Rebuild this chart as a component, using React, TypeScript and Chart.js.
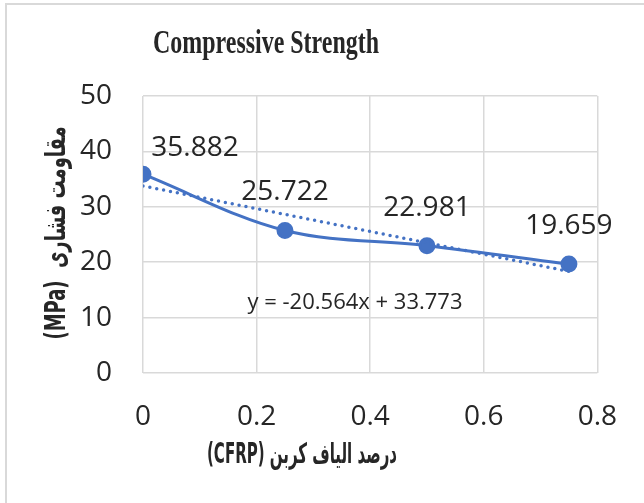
import React, { useEffect, useRef } from 'react';
import { Chart, registerables } from 'chart.js';

Chart.register(...registerables);

const xValues = [0, 0.25, 0.5, 0.75];
const strengthValues = [35.882, 25.722, 22.981, 19.659];
const pointLabels = ['35.882', '25.722', '22.981', '19.659'];
const xTickLabels = ['0', '0.2', '0.4', '0.6', '0.8'];
const yTickLabels = ['0', '10', '20', '30', '40', '50'];
const trendSlope = -20.564;
const trendIntercept = 33.773;
const trendX = [0, 0.75];
const titleText = 'Compressive Strength';
const xTitleText = 'درصد الیاف کربن (CFRP)';
const yTitleText = 'مقاومت فشاری  (MPa)';
const equationText = 'y = -20.564x + 33.773';

const BLUE = '#4472C4';
const TEXT = '#262626';
const GRID = '#d9d9d9';

function fitText(ctx: CanvasRenderingContext2D, text: string, x: number, y: number, font: string, width: number, rotate = 0, rtl = false) {
  ctx.save();
  ctx.font = font;
  ctx.direction = rtl ? 'rtl' : 'ltr';
  ctx.textAlign = 'center';
  ctx.textBaseline = 'middle';
  const w = ctx.measureText(text).width;
  ctx.translate(x, y);
  if (rotate) ctx.rotate(rotate);
  ctx.scale(width / w, 1);
  ctx.fillText(text, 0, 0);
  ctx.restore();
}

const decor = {
  id: 'decor',
  beforeDraw(chart: any) {
    const ctx = chart.ctx as CanvasRenderingContext2D;
    ctx.save();
    ctx.fillStyle = '#fff';
    ctx.fillRect(0, 0, chart.width, chart.height);
    ctx.strokeStyle = GRID;
    ctx.lineWidth = 2;
    ctx.beginPath();
    ctx.moveTo(6, chart.height);
    ctx.lineTo(6, 4);
    ctx.lineTo(chart.width, 4);
    ctx.stroke();
    ctx.restore();
  },
  afterDatasetsDraw(chart: any) {
    const ctx = chart.ctx as CanvasRenderingContext2D;
    const meta = chart.getDatasetMeta(1);
    ctx.save();
    ctx.fillStyle = TEXT;
    ctx.font = '28px "Open Sans"';
    ctx.textAlign = 'center';
    ctx.textBaseline = 'middle';
    meta.data.forEach((pt: any, i: number) => {
      const dx = i === 0 ? 52 : 0;
      const dy = i === 0 ? -26 : -38;
      ctx.fillText(pointLabels[i], pt.x + dx, pt.y + dy);
    });
    const a = chart.chartArea;
    ctx.font = '22px "Open Sans"';
    ctx.fillText(equationText, a.left + 212, a.top + 207);
    ctx.restore();
  },
  afterDraw(chart: any) {
    const ctx = chart.ctx as CanvasRenderingContext2D;
    ctx.save();
    ctx.fillStyle = TEXT;
    ctx.save();
    ctx.font = 'bold 33px "Liberation Serif"';
    ctx.textAlign = 'center';
    ctx.textBaseline = 'alphabetic';
    const w = ctx.measureText(titleText).width;
    ctx.translate(266, 53);
    ctx.scale(226 / w, 1);
    ctx.fillText(titleText, 0, 0);
    ctx.restore();
    fitText(ctx, xTitleText, 302, 456, 'bold 28px "DejaVu Sans"', 190, 0, true);
    fitText(ctx, yTitleText, 58, 233, 'bold 28px "DejaVu Sans"', 213, -Math.PI / 2, true);
    ctx.restore();
  },
};

export default function App() {
  const ref = useRef<HTMLCanvasElement | null>(null);
  useEffect(() => {
    if (!ref.current) return;
    const chart = new Chart(ref.current, {
      type: 'scatter',
      data: {
        datasets: [
          {
            label: 'Trend',
            type: 'line',
            data: trendX.map((x) => ({ x, y: trendSlope * x + trendIntercept })),
            borderColor: BLUE,
            borderWidth: 3.5,
            borderDash: [0, 7],
            borderCapStyle: 'round',
            pointRadius: 0,
            fill: false,
            order: 0,
          } as any,
          {
            label: 'Compressive Strength',
            type: 'line',
            data: xValues.map((x, i) => ({ x, y: strengthValues[i] })),
            borderColor: BLUE,
            backgroundColor: BLUE,
            borderWidth: 3,
            tension: 0.35,
            pointRadius: 7,
            pointBackgroundColor: BLUE,
            pointBorderColor: BLUE,
            fill: false,
            order: 1,
          } as any,
        ],
      },
      options: {
        responsive: true,
        maintainAspectRatio: false,
        animation: false,
        layout: { padding: { top: 96, right: 44, left: 0, bottom: 0 } },
        plugins: {
          legend: { display: false },
          tooltip: { enabled: false },
          title: { display: false },
        },
        scales: {
          x: {
            type: 'linear',
            min: 0,
            max: 0.8,
            ticks: {
              stepSize: 0.2,
              padding: 27,
              color: TEXT,
              font: { family: '"Open Sans"', size: 28 },
              callback: (_v: any, i: number) => xTickLabels[i],
            },
            grid: { color: GRID, lineWidth: 1.5, drawTicks: false },
            border: { display: false },
            afterFit: (s: any) => { s.height = 130; },
          },
          y: {
            type: 'linear',
            min: 0,
            max: 50,
            ticks: {
              stepSize: 10,
              padding: 31,
              color: TEXT,
              font: { family: '"Open Sans"', size: 28 },
              callback: (_v: any, i: number) => yTickLabels[i],
            },
            grid: { color: GRID, lineWidth: 1.5, drawTicks: false },
            border: { display: false },
            afterFit: (s: any) => { s.width = 143; },
          },
        },
      } as any,
      plugins: [decor],
    });
    return () => chart.destroy();
  }, []);
  return (
    <div style={{ position: 'fixed', left: 0, top: 0, width: 644, height: 503, background: '#fff' }}>
      <canvas ref={ref} />
    </div>
  );
}
